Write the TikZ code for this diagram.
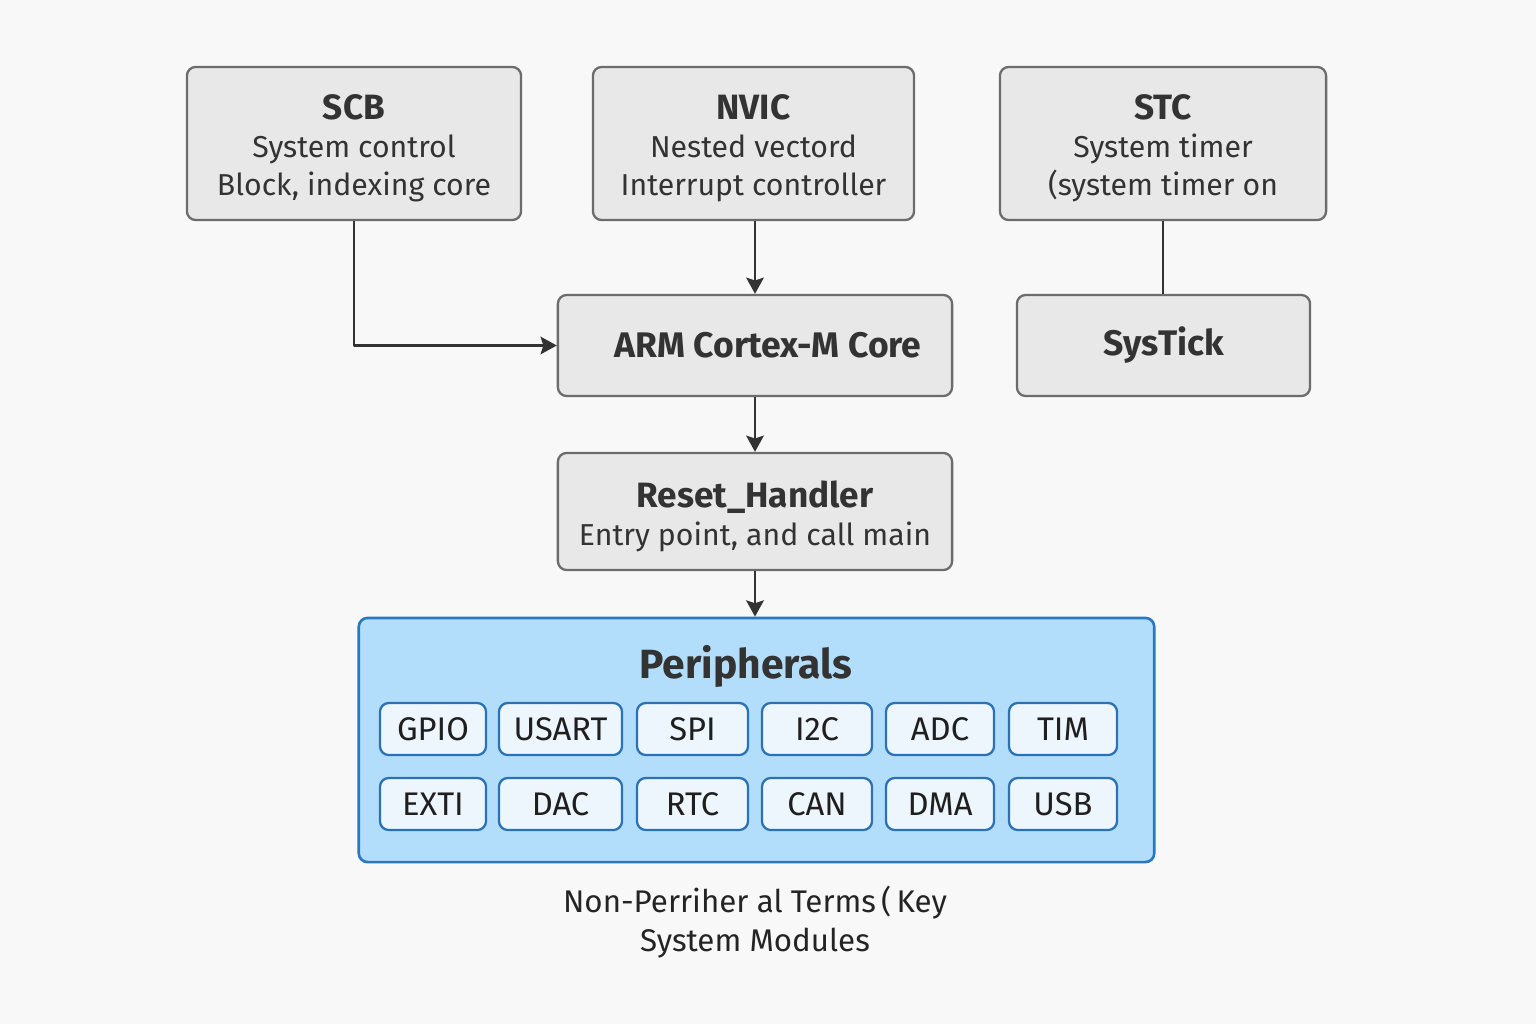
\documentclass[tikz,border=0pt]{standalone}
\usepackage{fontspec}
\setmainfont{Fira Sans}
\usetikzlibrary{positioning,arrows.meta}
\definecolor{bgcol}{HTML}{F8F8F8}
\definecolor{boxgray}{HTML}{E8E8E8}
\definecolor{boxline}{HTML}{6C6C6C}
\definecolor{txt}{HTML}{333333}
\definecolor{perfill}{HTML}{B2DEFB}
\definecolor{perline}{HTML}{2C78BC}
\definecolor{chipfill}{HTML}{EEF6FD}
\definecolor{chipline}{HTML}{2A72B5}
\newcommand{\hdline}[2]{\rule{0pt}{#1}{\bfseries\fontsize{10}{10.8}\selectfont #2}}
\begin{document}
\begin{tikzpicture}[x=0.01cm,y=-0.01cm,>={Stealth[length=4.6pt,width=5pt,inset=0.8pt]},line join=round,
	blk/.style={draw=boxline,fill=boxgray,line width=0.65pt,rounded corners=2.5pt,
		align=center,text=txt,inner sep=0pt,font=\fontsize{8.6}{10.8}\selectfont},
	chip/.style={draw=chipline,fill=chipfill,line width=0.65pt,rounded corners=2.5pt,
		inner sep=0pt,minimum height=0.52cm,text=txt!60!black,font=\fontsize{9.3}{10}\selectfont},
	conn/.style={draw=txt,line width=0.7pt},
	hd/.style={font=\fontsize{10.1}{10.8}\selectfont\bfseries}]
	\fill[bgcol] (0,0) rectangle (1536,1024);
	\useasboundingbox (0,0) rectangle (1536,1024);
	% top row
	\node[blk,minimum width=3.34cm,minimum height=1.53cm] (scb) at (354,143.5)
		{\hdline{9.6pt}{SCB}\\System control\\Block, indexing core};
	\node[blk,minimum width=3.21cm,minimum height=1.53cm] (nvic) at (753.5,143.5)
		{\hdline{9.6pt}{NVIC}\\Nested vectord\\Interrupt controller};
	\node[blk,minimum width=3.26cm,minimum height=1.53cm] (stc) at (1163,143.5)
		{\hdline{9.6pt}{STC}\\System timer\\(system timer on};
	% middle
	\node[blk,hd,minimum width=3.94cm,minimum height=1.01cm] (core) at (755,345.5)
		{\hspace{0.26cm}ARM Cortex-M Core};
	\node[blk,hd,minimum width=2.93cm,minimum height=1.01cm] (systick) at (1163.5,345.5) {SysTick};
	\node[blk,minimum width=3.94cm,minimum height=1.17cm] (reset) at (755,511.5)
		{\hdline{10.6pt}{Reset\_Handler}\\Entry point, and call main};
	% peripherals
	\node[draw=perline,fill=perfill,line width=0.75pt,rounded corners=2.5pt,
		minimum width=7.95cm,minimum height=2.44cm] (periph) at (756.5,740) {};
	\node[text=txt,font=\fontsize{11.6}{13}\selectfont\bfseries] (ptitle) at (746,666) {Peripherals};
	\foreach \nm/\cx/\w in {GPIO/433/1.06,USART/560.5/1.23,SPI/692.5/1.11,I2C/817/1.10,ADC/940/1.08,TIM/1063/1.08}
		\node[chip,minimum width=\w cm] (p-\nm) at (\cx,729) {\nm};
	\foreach \nm/\cx/\w in {EXTI/433/1.06,DAC/560.5/1.23,RTC/692.5/1.11,CAN/817/1.10,DMA/940/1.08,USB/1063/1.08}
		\node[chip,minimum width=\w cm] (p-\nm) at (\cx,804) {\nm};
	\node[align=center,text=txt!70!black,font=\fontsize{8.9}{11.2}\selectfont] (note) at (755,922)
		{Non-Perriher al Terms\,(\,Key\\System Modules};
	% connectors
	\draw[conn,->] (scb.south) |- (core.west);
	\draw[conn,->] (nvic.south -| core.north) -- (core.north);
	\draw[conn] (stc.south) -- (stc.south |- systick.north);
	\draw[conn,->] (core) -- (reset);
	\draw[conn,->] (reset.south) -- (reset.south |- periph.north);
\end{tikzpicture}
\end{document}
